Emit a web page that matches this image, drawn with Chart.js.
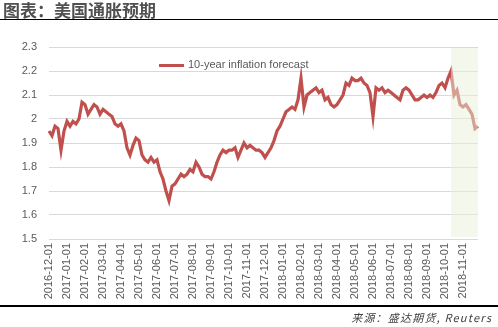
<!DOCTYPE html>
<html>
<head>
<meta charset="utf-8">
<script src="https://cdn.jsdelivr.net/npm/chart.js@4"></script>
<style>
  html, body { margin: 0; padding: 0; background: #fff; }
  #wrap { position: relative; width: 498px; height: 327px; overflow: hidden; }
  #title { position: absolute; left: 3px; top: 0px; font: bold 17px "Noto Sans CJK SC", sans-serif; color: #505050; line-height: 19px; white-space: nowrap; }
  #ruleTop { position: absolute; left: 0; top: 19px; width: 498px; height: 1px; background: #000; }
  #ruleBot { position: absolute; left: 0; top: 305px; width: 498px; height: 1.5px; background: #000; }
  #source { position: absolute; right: 6px; top: 309px; font: italic 11px "Noto Sans CJK SC", sans-serif; color: #404040; white-space: nowrap; letter-spacing: 1.2px; }
  canvas { position: absolute; left: 0; top: 0; }
</style>
</head>
<body>
<div id="wrap">
  <canvas id="c" width="498" height="327"></canvas>
  <div id="title">图表：美国通胀预期</div>
  <div id="ruleTop"></div>
  <div id="ruleBot"></div>
  <div id="source">来源：盛达期货, Reuters</div>
</div>
<script>
// Month tick labels (one every 6 data points)
const monthLabels = [
  '2016-12-01','2017-01-01','2017-02-01','2017-03-01','2017-04-01','2017-05-01',
  '2017-06-01','2017-07-01','2017-08-01','2017-09-01','2017-10-01','2017-11-01',
  '2017-12-01','2018-01-01','2018-02-01','2018-03-01','2018-04-01','2018-05-01',
  '2018-06-01','2018-07-01','2018-08-01','2018-09-01','2018-10-01','2018-11-01'
];
const pointsPerMonth = 6;
const seriesName = '10-year inflation forecast';
// 10-year inflation forecast (approx. every ~5 calendar days)
const inflationForecast = [
  1.95,1.93,1.97,1.96,1.87,1.95, 1.99,1.97,1.99,1.98,2.00,2.07,
  2.06,2.02,2.04,2.06,2.05,2.02, 2.04,2.03,2.02,2.01,1.98,1.97,
  1.98,1.95,1.88,1.85,1.89,1.92, 1.91,1.85,1.83,1.82,1.84,1.82,
  1.83,1.78,1.75,1.70,1.66,1.72, 1.73,1.75,1.77,1.76,1.77,1.79,
  1.78,1.82,1.80,1.77,1.76,1.76, 1.75,1.78,1.82,1.85,1.87,1.86,
  1.87,1.87,1.88,1.84,1.87,1.90, 1.88,1.89,1.88,1.87,1.87,1.86,
  1.84,1.86,1.88,1.91,1.95,1.97, 2.00,2.03,2.04,2.05,2.04,2.08,
  2.17,2.05,2.10,2.11,2.12,2.13, 2.11,2.12,2.08,2.09,2.06,2.05,
  2.06,2.08,2.10,2.15,2.14,2.17, 2.16,2.16,2.17,2.15,2.14,2.11,
  2.01,2.13,2.12,2.13,2.11,2.12, 2.11,2.10,2.09,2.08,2.12,2.13,
  2.12,2.10,2.08,2.08,2.09,2.10, 2.09,2.10,2.09,2.11,2.14,2.15,
  2.13,2.17,2.20,2.10,2.12,2.06, 2.05,2.06,2.04,2.02,1.96,1.97
];
const forecastStartIndex = 134; // shaded forecast zone begins here
const yMin = 1.5, yMax = 2.3, yStep = 0.1;

const categories = inflationForecast.map((v, i) =>
  i % pointsPerMonth === 0 ? monthLabels[i / pointsPerMonth] : '');

const shadePlugin = {
  id: 'shade',
  afterDatasetsDraw(chart) {
    const { ctx, chartArea, scales } = chart;
    const x0 = scales.x.getPixelForValue(forecastStartIndex);
    const x1 = chartArea.right;
    ctx.save();
    ctx.fillStyle = 'rgba(233,239,217,0.5)';
    ctx.fillRect(x0, chartArea.top + 1, x1 - x0, chartArea.bottom - chartArea.top - 3);
    ctx.restore();
  }
};

const legendPlugin = {
  id: 'inlineLegend',
  afterDraw(chart) {
    const { ctx } = chart;
    const ds = chart.data.datasets[0];
    ctx.save();
    ctx.strokeStyle = ds.borderColor;
    ctx.lineWidth = 3;
    ctx.beginPath();
    ctx.moveTo(159, 65.5);
    ctx.lineTo(184, 65.5);
    ctx.stroke();
    ctx.fillStyle = '#595959';
    ctx.font = '11px "Liberation Sans", sans-serif';
    ctx.textBaseline = 'middle';
    ctx.textAlign = 'left';
    ctx.fillText(ds.label, 188, 65);
    ctx.restore();
  }
};

new Chart(document.getElementById('c'), {
  type: 'line',
  data: {
    labels: categories,
    datasets: [{
      label: seriesName,
      data: inflationForecast,
      borderColor: '#c0504d',
      borderWidth: 3.2,
      pointRadius: 0,
      tension: 0,
      fill: false
    }]
  },
  options: {
    responsive: false,
    animation: false,
    devicePixelRatio: 1,
    layout: { padding: { left: 0, right: 20, top: 47, bottom: 22 } },
    plugins: { legend: { display: false }, tooltip: { enabled: false } },
    scales: {
      x: {
        type: 'category',
        offset: false,
        grid: { display: false, drawTicks: false },
        border: { display: false },
        ticks: {
          autoSkip: false,
          maxRotation: 90,
          minRotation: 90,
          padding: 4,
          color: '#595959',
          font: { family: '"Liberation Sans", sans-serif', size: 11 },
          callback: function (val, idx) { return categories[idx]; }
        },
        afterFit(scale) { scale.height = 66; }
      },
      y: {
        min: yMin,
        max: yMax,
        grid: { color: '#d9d9d9', lineWidth: 1, drawTicks: false },
        border: { display: false },
        ticks: {
          stepSize: yStep,
          padding: 12,
          color: '#595959',
          font: { family: '"Liberation Sans", sans-serif', size: 11 },
          callback: v => String(parseFloat(v.toFixed(1)))
        },
        afterFit(scale) { scale.width = 49; }
      }
    }
  },
  plugins: [shadePlugin, legendPlugin]
});
</script>
</body>
</html>
